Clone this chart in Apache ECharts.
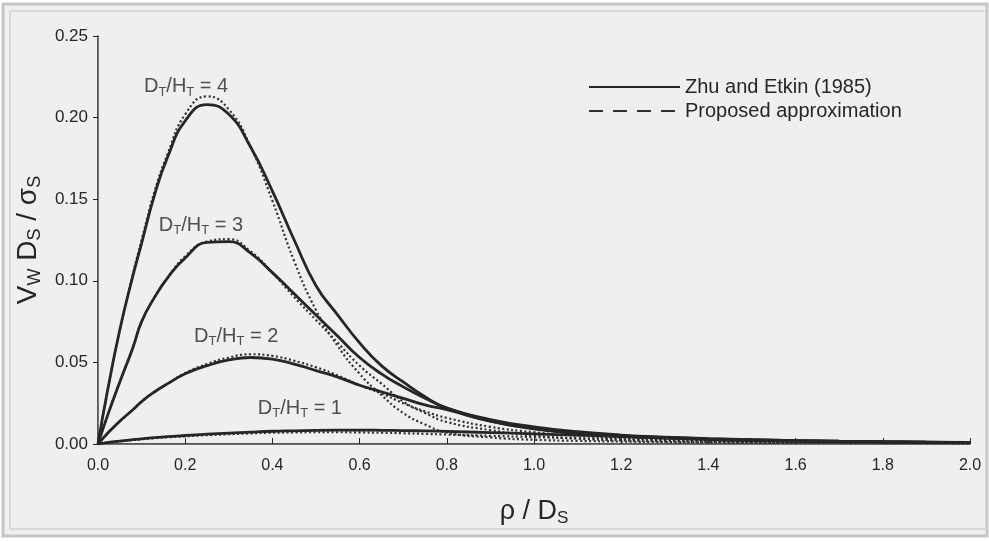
<!DOCTYPE html>
<html>
<head>
<meta charset="utf-8">
<script src="https://cdn.jsdelivr.net/npm/echarts@6/dist/echarts.min.js"></script>
<style>
html, body { margin: 0; padding: 0; background: #fff; }
#chart { width: 989px; height: 541px; }
</style>
</head>
<body>
<div id="chart"></div>
<script>
// rho / Ds sample points shared by every curve
var rho = [0, 0.02, 0.05, 0.08, 0.1, 0.13, 0.16, 0.2, 0.25, 0.3, 0.35, 0.4, 0.45, 0.5, 0.55, 0.6,
    0.65, 0.7, 0.75, 0.8, 0.9, 1.0, 1.1, 1.2, 1.3, 1.4, 1.5, 1.6, 1.7, 1.8, 1.9, 2.0];

// Zhu and Etkin (1985), Vw Ds / sigma s
var zhu4 = [0, 0.030, 0.070, 0.103, 0.123, 0.153, 0.176, 0.198, 0.208, 0.202, 0.182, 0.155, 0.125, 0.097,
    0.079, 0.062, 0.048, 0.038, 0.029, 0.022, 0.015, 0.0105, 0.0075, 0.0055, 0.0042, 0.0033, 0.0026,
    0.0021, 0.0017, 0.0014, 0.0012, 0.0010];
var zhu3 = [0, 0.016, 0.038, 0.059, 0.075, 0.090, 0.102, 0.114, 0.1235, 0.124, 0.117, 0.105, 0.092, 0.079,
    0.066, 0.053, 0.043, 0.035, 0.028, 0.022, 0.014, 0.0095, 0.0067, 0.0049, 0.0037, 0.0029, 0.0023,
    0.0019, 0.0015, 0.0013, 0.0011, 0.0009];
var zhu2 = [0, 0.006, 0.014, 0.021, 0.026, 0.032, 0.037, 0.043, 0.048, 0.0515, 0.053, 0.052, 0.049, 0.045,
    0.041, 0.036, 0.032, 0.028, 0.024, 0.021, 0.014, 0.0092, 0.0064, 0.0047, 0.0036, 0.0028, 0.0022,
    0.0018, 0.0015, 0.0012, 0.0010, 0.0009];
var zhu1 = [0, 0.0008, 0.0018, 0.0027, 0.0032, 0.0039, 0.0045, 0.0052, 0.0060, 0.0067, 0.0073, 0.0078,
    0.0081, 0.0084, 0.0085, 0.0085, 0.0084, 0.0082, 0.0080, 0.0077, 0.0070, 0.0062, 0.0054, 0.0046,
    0.0039, 0.0032, 0.0026, 0.0021, 0.0017, 0.0014, 0.0011, 0.0009];

// Proposed approximation
var prop4 = [0, 0.030, 0.070, 0.104, 0.125, 0.155, 0.178, 0.202, 0.213, 0.205, 0.182, 0.149, 0.112, 0.082,
    0.060, 0.043, 0.030, 0.019, 0.012, 0.007, 0.004, 0.0026, 0.0019, 0.0015, 0.0012, 0.0010, 0.0008,
    0.0007, 0.0006, 0.0005, 0.0005, 0.0004];
var prop3 = [0, 0.016, 0.038, 0.059, 0.075, 0.090, 0.102, 0.115, 0.124, 0.1255, 0.118, 0.105, 0.090, 0.076,
    0.062, 0.048, 0.037, 0.026, 0.019, 0.0135, 0.0085, 0.0052, 0.0033, 0.0022, 0.0016, 0.0012, 0.0010,
    0.0008, 0.0007, 0.0006, 0.0005, 0.0004];
var prop2 = [0, 0.006, 0.014, 0.021, 0.026, 0.032, 0.037, 0.0435, 0.049, 0.053, 0.055, 0.054, 0.051, 0.047,
    0.042, 0.036, 0.031, 0.025, 0.020, 0.016, 0.0105, 0.0072, 0.0050, 0.0036, 0.0027, 0.0020, 0.0016,
    0.0013, 0.0011, 0.0009, 0.0008, 0.0007];
var prop1 = [0, 0.0007, 0.0016, 0.0024, 0.0029, 0.0035, 0.0041, 0.0047, 0.0054, 0.0060, 0.0065, 0.0069,
    0.0071, 0.0072, 0.0072, 0.0071, 0.0069, 0.0066, 0.0062, 0.0058, 0.0050, 0.0042, 0.0035, 0.0029,
    0.0024, 0.0020, 0.0016, 0.0013, 0.0011, 0.0009, 0.0008, 0.0007];

// curve annotations D_T/H_T = n, anchored in data space
var ratios = ['4', '3', '2', '1'];
var ratioRho = [0.202, 0.236, 0.317, 0.463];
var ratioV = [0.219, 0.134, 0.066, 0.022];

var legendNames = ['Zhu and Etkin (1985)', 'Proposed approximation'];

var ink = '#262626';
var font = 'Arial, Liberation Sans';

function pairs(ys) {
    return rho.map(function (r, i) { return [r, ys[i]]; });
}

function curve(name, ys, dotted) {
    return {
        name: name,
        type: 'line',
        data: pairs(ys),
        smooth: 0.5,
        showSymbol: false,
        symbol: 'none',
        silent: true,
        z: dotted ? 3 : 4,
        itemStyle: { color: ink },
        lineStyle: dotted
            ? { color: '#303030', width: 2.2, type: [2, 2.5] }
            : { color: ink, width: 2.8 }
    };
}

function subText(size, subSize) {
    return {
        m: { fontSize: size, fontFamily: font, color: ink, lineHeight: size + 4 },
        s: { fontSize: subSize, fontFamily: font, color: ink, verticalAlign: 'bottom', lineHeight: subSize + 1 }
    };
}

var series = [
    curve(legendNames[0], zhu4, false),
    curve(legendNames[0], zhu3, false),
    curve(legendNames[0], zhu2, false),
    curve(legendNames[0], zhu1, false),
    curve(legendNames[1], prop4, true),
    curve(legendNames[1], prop3, true),
    curve(legendNames[1], prop2, true),
    curve(legendNames[1], prop1, true),
    {
        name: 'labels',
        type: 'scatter',
        symbolSize: 0,
        silent: true,
        data: ratios.map(function (r, i) { return [ratioRho[i], ratioV[i], r]; }),
        label: {
            show: true,
            position: 'inside',
            formatter: function (p) {
                return '{m|D}{s|T}{m|/H}{s|T}{m| = ' + p.value[2] + '}';
            },
            rich: subText(20, 13)
        }
    }
];

var chart = echarts.init(document.getElementById('chart'));

chart.setOption({
    backgroundColor: '#ffffff',
    animation: false,
    graphic: [
        { type: 'rect', shape: { x: 3, y: 4, width: 984, height: 532 }, style: { fill: '#efefef', stroke: '#c6c6c6', lineWidth: 3 }, z: -10 },
        { type: 'rect', shape: { x: 10, y: 11, width: 976, height: 518 }, style: { fill: 'none', stroke: '#d2d2d2', lineWidth: 1.5 }, z: -9 }
    ],
    grid: { left: 98, right: 19, top: 36, bottom: 97 },
    legend: {
        data: [
            { name: legendNames[0] },
            { name: legendNames[1], lineStyle: { type: [14, 10], width: 2 } }
        ],
        orient: 'vertical',
        left: 583,
        top: 72,
        itemWidth: 91,
        itemHeight: 16,
        itemGap: 4,
        selectedMode: false,
        itemStyle: { opacity: 0 },
        textStyle: { fontSize: 20, fontFamily: font, color: ink }
    },
    xAxis: [{
        type: 'value',
        min: 0,
        max: 2,
        interval: 0.2,
        name: '{m|ρ / D}{s|S}',
        nameLocation: 'middle',
        nameGap: 52,
        nameTextStyle: { rich: subText(27, 17) },
        axisLine: { lineStyle: { color: ink, width: 1.5 } },
        axisTick: { inside: true, length: 6, lineStyle: { color: ink } },
        axisLabel: {
            margin: 14,
            fontSize: 16,
            fontFamily: font,
            color: ink,
            formatter: function (v) { return v.toFixed(1); }
        },
        splitLine: { show: false }
    }, {
        type: 'value',
        position: 'top',
        min: 0,
        max: 2,
        axisLine: { show: true, lineStyle: { color: '#777', width: 1, type: 'dotted' } },
        axisTick: { show: false },
        axisLabel: { show: false },
        splitLine: { show: false }
    }],
    yAxis: [{
        type: 'value',
        min: 0,
        max: 0.25,
        interval: 0.05,
        name: '{m|V}{s|W}{m| D}{s|S}{m| / σ}{s|S}',
        nameLocation: 'middle',
        nameGap: 50,
        nameRotate: 90,
        nameTextStyle: { rich: subText(28, 18) },
        axisLine: { show: true, lineStyle: { color: ink, width: 1.5 } },
        axisTick: { show: true, inside: false, length: 5, lineStyle: { color: ink } },
        axisLabel: {
            margin: 10,
            fontSize: 17,
            fontFamily: font,
            color: ink,
            formatter: function (v) { return v.toFixed(2); }
        },
        splitLine: { show: false }
    }, {
        type: 'value',
        position: 'right',
        min: 0,
        max: 0.25,
        axisLine: { show: true, lineStyle: { color: '#777', width: 1, type: 'dotted' } },
        axisTick: { show: false },
        axisLabel: { show: false },
        splitLine: { show: false }
    }],
    series: series
});
</script>
</body>
</html>
